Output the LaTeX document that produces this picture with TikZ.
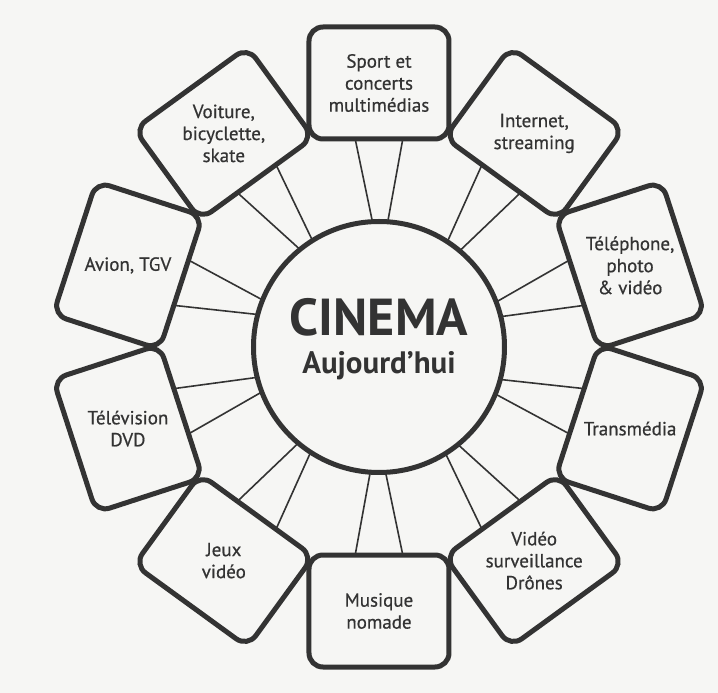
\documentclass[tikz,border=0pt]{standalone}
\usepackage{fontspec}
\setmainfont{PT Sans}
\usetikzlibrary{calc}
\definecolor{ink}{HTML}{333333}
\definecolor{paper}{HTML}{F6F6F4}
\tikzset{
  hub/.style={circle,draw=ink,line width=5pt,minimum size=251pt,inner sep=0pt,outer sep=0pt},
  topic/.style={rectangle,draw=ink,line width=5pt,rounded corners=14pt,minimum width=140pt,minimum height=112pt,outer sep=0pt},
  topic text/.style={text=ink,align=center,font=\fontsize{19}{22}\selectfont\addfontfeature{FakeBold=0.6}},
  spoke/.style={draw=ink,line width=1.6pt}
}
\begin{document}
\begin{tikzpicture}[x=1pt,y=1pt]
  \fill[paper] (-379,-346) rectangle (339,347);
  \useasboundingbox (-379,-346) rectangle (339,347);

  \node[hub] (hub) at (0,0) {};
  \node[text=ink,font=\bfseries\fontsize{52}{52}\selectfont] (cinema) at (0,30) {CINEMA};
  \node[text=ink,font=\bfseries\fontsize{31}{31}\selectfont] (today) at (0,-19) {Aujourd'hui};

  % ten topics round the hub, two spokes each
  \foreach \a/\txt [count=\i, evaluate=\a as \lo using \a-3.5, evaluate=\a as \hi using \a+3.5] in
    {90/{Sport et\\concerts\\multimédias},
     54/{Internet,\\streaming},
     18/{Téléphone,\\photo\\\& vidéo},
     342/{Transmédia},
     306/{Vidéo\\surveillance\\Drônes},
     270/{Musique\\nomade},
     234/{Jeux\\vidéo},
     198/{Télévision\\DVD},
     162/{Avion, TGV},
     126/{Voiture,\\bicyclette,\\skate}}{
    \node[topic,rotate=\a-90] (box\i) at (\a:264) {};
    \node[topic text] (lbl\i) at (box\i) {\txt};
    \draw[spoke] (hub.\lo) -- ($(box\i.south)!0.34!(box\i.south east)$);
    \draw[spoke] (hub.\hi) -- ($(box\i.south)!0.34!(box\i.south west)$);
  }
\end{tikzpicture}
\end{document}
